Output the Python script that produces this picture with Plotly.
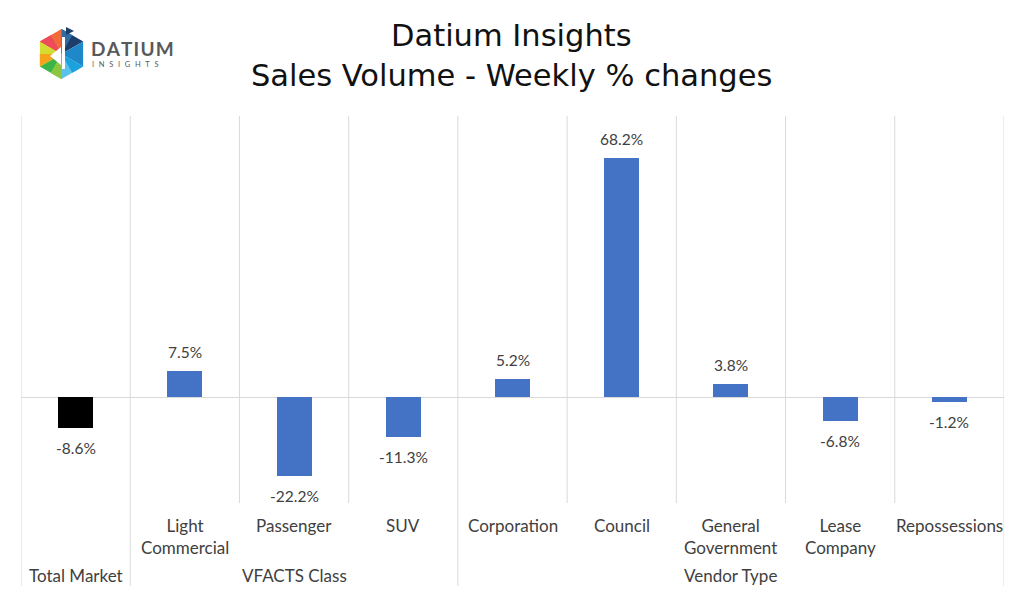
import math
import plotly.graph_objects as go

# ---- data ----
categories = ["Total Market", "Light Commercial", "Passenger", "SUV", "Corporation",
              "Council", "General Government", "Lease Company", "Repossessions"]
tick_labels = ["", "Light<br>Commercial", "Passenger", "SUV", "Corporation",
               "Council", "General<br>Government", "Lease<br>Company", "Repossessions"]
values = [-8.6, 7.5, -22.2, -11.3, 5.2, 68.2, 3.8, -6.8, -1.2]
group_names = ["Total Market", "VFACTS Class", "Vendor Type"]
group_start = [0, 1, 4]
group_end = [0, 3, 8]
bar_colors = ["#000000"] + ["#4472C4"] * 8

OFF = 8  # page body margin
W, H = 1016, 586
L, R, T, B = 13, 20, 108, 91
PW, PH = W - L - R, H - T - B


def px(x):
    return (x - OFF - L) / PW


def py(y):
    return (H - B - (y - OFF)) / PH


FONT = "Lato"
TFONT = "DejaVu Sans"
TXT = "#404040"
GRID = "#D9D9D9"

fig = go.Figure()
fig.add_trace(go.Bar(x=categories, y=values, marker=dict(color=bar_colors, line=dict(width=0)),
                     width=0.32, hoverinfo="x+y"))

shapes = []
annotations = []

# data labels
for c, v in zip(categories, values):
    annotations.append(dict(x=c, y=v, xref="x", yref="y", text=f"{v:.1f}%", showarrow=False,
                            yanchor="middle", yshift=19 if v >= 0 else -20,
                            font=dict(family=FONT, size=15.5, color=TXT)))

# category labels
for c, t in zip(categories, tick_labels):
    if t:
        annotations.append(dict(x=c, y=py(513), xref="x", yref="paper", text=t, showarrow=False,
                                yanchor="top", align="center",
                                font=dict(family=FONT, size=17, color=TXT)))

# group labels
for g, s, e in zip(group_names, group_start, group_end):
    annotations.append(dict(x=(s + e) / 2, y=py(575), xref="x", yref="paper", text=g,
                            showarrow=False, yanchor="middle",
                            font=dict(family=FONT, size=17, color=TXT)))

# gridlines: inner and group boundaries
boundaries = set([s - 0.5 for s in group_start] + [group_end[-1] + 0.5])
for i in range(len(categories) + 1):
    xb = i - 0.5
    y0 = py(586) if xb in boundaries else 0
    shapes.append(dict(type="line", xref="x", yref="paper", x0=xb, x1=xb, y0=y0, y1=1,
                       line=dict(color=GRID, width=1), layer="below"))

# title
annotations.append(dict(x=px(511), y=py(36), xref="paper", yref="paper", text="Datium Insights",
                        showarrow=False, xanchor="center", yanchor="middle",
                        font=dict(family=TFONT, size=30.5, color="#111111")))
annotations.append(dict(x=px(511), y=py(76), xref="paper", yref="paper",
                        text="Sales Volume - Weekly % changes",
                        showarrow=False, xanchor="center", yanchor="middle",
                        font=dict(family=TFONT, size=30.5, color="#111111")))

# logo (hexagon of coloured triangles)
cx, cy, r = 61.5, 54, 25
verts = []
for k in range(6):
    a = math.radians(-90 + 60 * k)
    verts.append((cx + r * math.cos(a), cy + r * math.sin(a)))
tri_colors = ["#1D3D6B", "#1E88C9", "#5BC0EB", "#3BB44A", "#D4DC32", "#F26B3A"]
for k in range(6):
    a, b = verts[k], verts[(k + 1) % 6]
    path = f"M {px(cx)} {py(cy)} L {px(a[0])} {py(a[1])} L {px(b[0])} {py(b[1])} Z"
    shapes.append(dict(type="path", xref="paper", yref="paper", path=path,
                       fillcolor=tri_colors[k], line=dict(width=0)))


def mid(p, q):
    return ((p[0] + q[0]) / 2, (p[1] + q[1]) / 2)


accent = [((cx, cy), verts[4], mid(verts[4], verts[5]), "#F7A21B"),
          ((cx, cy), verts[3], mid(verts[3], verts[4]), "#8CC63F"),
          ((cx, cy), verts[2], mid(verts[2], verts[3]), "#1BA1DC"),
          ((cx, cy), verts[5], mid(verts[5], verts[0]), "#EE4B5A"),
          ((cx, cy), verts[0], mid(verts[0], verts[1]), "#2E6DA4")]
for p0, p1, p2, col in accent:
    path = f"M {px(p0[0])} {py(p0[1])} L {px(p1[0])} {py(p1[1])} L {px(p2[0])} {py(p2[1])} Z"
    shapes.append(dict(type="path", xref="paper", yref="paper", path=path,
                       fillcolor=col, line=dict(width=0)))
# white "d" mark
d_path = f"M {px(50)} {py(56)} L {px(61)} {py(47)} L {px(61)} {py(65)} Z"
shapes.append(dict(type="path", xref="paper", yref="paper", path=d_path,
                   fillcolor="white", line=dict(width=0)))
shapes.append(dict(type="rect", xref="paper", yref="paper", x0=px(62), x1=px(65), y0=py(69), y1=py(37),
                   fillcolor="white", line=dict(width=0)))
flag = f"M {px(66)} {py(27)} L {px(74)} {py(31)} L {px(66)} {py(35)} Z"
shapes.append(dict(type="path", xref="paper", yref="paper", path=flag,
                   fillcolor="#1D3D6B", line=dict(width=0)))

annotations.append(dict(x=px(89), y=py(48.5), xref="paper", yref="paper",
                        text="<b>" + "\u200a".join("DATIUM") + "</b>",
                        showarrow=False, xanchor="left", yanchor="middle",
                        font=dict(family=FONT, size=19, color="#58595B")))
sp = "\u2002\u2009"
annotations.append(dict(x=px(90), y=py(65), xref="paper", yref="paper",
                        text=sp.join("INSIGHTS"),
                        showarrow=False, xanchor="left", yanchor="middle",
                        font=dict(family=FONT, size=7.5, color="#58595B")))

fig.update_layout(
    width=W, height=H,
    margin=dict(l=L, r=R, t=T, b=B, pad=0),
    paper_bgcolor="white", plot_bgcolor="white",
    showlegend=False,
    xaxis=dict(range=[-0.5, 8.5], showticklabels=False, showgrid=False, zeroline=False,
               showline=False, ticks=""),
    yaxis=dict(range=[-30, 80], showticklabels=False, showgrid=False, zeroline=True,
               zerolinecolor=GRID, zerolinewidth=1, showline=False, ticks=""),
    shapes=shapes,
    annotations=annotations,
    bargap=0,
)

fig.write_html("out.html")
